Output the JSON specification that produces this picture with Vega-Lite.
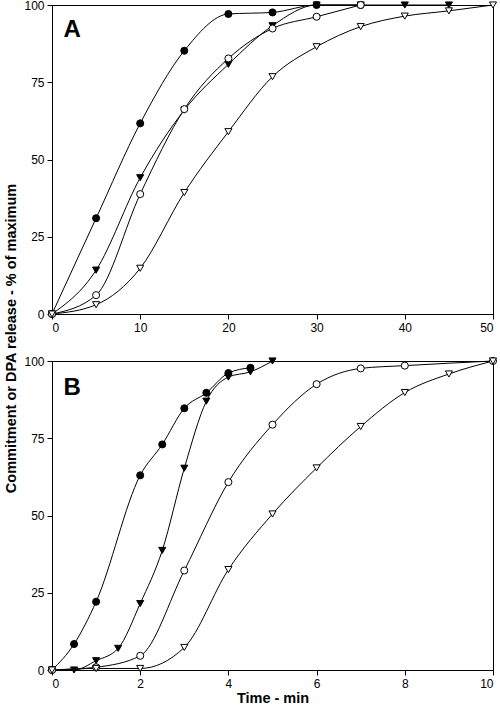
{
  "$schema": "https://vega.github.io/schema/vega-lite/v6.json",
  "padding": {"left": 2, "top": -2, "right": 3, "bottom": 5},
  "background": "white",
  "spacing": 47,
  "bounds": "flush",
  "config": {
    "view": {"stroke": "black", "strokeWidth": 1},
    "axis": {
      "grid": false,
      "domainColor": "black",
      "tickColor": "black",
      "tickSize": 5,
      "labelColor": "black",
      "labelFont": "Liberation Sans",
      "labelFontSize": 12,
      "labelPadding": 3,
      "titleFont": "Liberation Sans",
      "titleFontSize": 14.5,
      "titleFontWeight": "bold",
      "titleColor": "black"
    }
  },
  "datasets": {
    "A": [
      {"t": 0, "v": 0, "s": "fc"}, {"t": 5, "v": 31, "s": "fc"}, {"t": 10, "v": 61.7, "s": "fc"}, {"t": 15, "v": 85.2, "s": "fc"}, {"t": 20, "v": 97.1, "s": "fc"}, {"t": 25, "v": 97.6, "s": "fc"}, {"t": 30, "v": 100, "s": "fc"}, {"t": 35, "v": 100, "s": "fc"},
      {"t": 0, "v": 0, "s": "ft"}, {"t": 5, "v": 14.2, "s": "ft"}, {"t": 10, "v": 44.1, "s": "ft"}, {"t": 15, "v": 66, "s": "ft"}, {"t": 20, "v": 80.8, "s": "ft"}, {"t": 25, "v": 93.3, "s": "ft"}, {"t": 30, "v": 100, "s": "ft"}, {"t": 35, "v": 100, "s": "ft"}, {"t": 40, "v": 100, "s": "ft"}, {"t": 45, "v": 100, "s": "ft"},
      {"t": 0, "v": 0, "s": "oc"}, {"t": 5, "v": 6.1, "s": "oc"}, {"t": 10, "v": 38.8, "s": "oc"}, {"t": 15, "v": 66.3, "s": "oc"}, {"t": 20, "v": 82.7, "s": "oc"}, {"t": 25, "v": 92.4, "s": "oc"}, {"t": 30, "v": 96.2, "s": "oc"}, {"t": 35, "v": 100, "s": "oc"},
      {"t": 0, "v": 0, "s": "ot"}, {"t": 5, "v": 3, "s": "ot"}, {"t": 10, "v": 14.8, "s": "ot"}, {"t": 15, "v": 39.3, "s": "ot"}, {"t": 20, "v": 59, "s": "ot"}, {"t": 25, "v": 76.8, "s": "ot"}, {"t": 30, "v": 86.5, "s": "ot"}, {"t": 35, "v": 93, "s": "ot"}, {"t": 40, "v": 96.4, "s": "ot"}, {"t": 45, "v": 98.1, "s": "ot"}, {"t": 50, "v": 100, "s": "ot"}
    ],
    "B": [
      {"t": 0, "v": 0, "s": "fc"}, {"t": 0.5, "v": 8.4, "s": "fc"}, {"t": 1, "v": 22.1, "s": "fc"}, {"t": 2, "v": 63, "s": "fc"}, {"t": 2.5, "v": 73, "s": "fc"}, {"t": 3, "v": 84.7, "s": "fc"}, {"t": 3.5, "v": 89.7, "s": "fc"}, {"t": 4, "v": 96.1, "s": "fc"}, {"t": 4.5, "v": 97.8, "s": "fc"},
      {"t": 0, "v": 0, "s": "ft"}, {"t": 0.5, "v": 0, "s": "ft"}, {"t": 1, "v": 3, "s": "ft"}, {"t": 1.5, "v": 7, "s": "ft"}, {"t": 2, "v": 21.5, "s": "ft"}, {"t": 2.5, "v": 38.7, "s": "ft"}, {"t": 3, "v": 65.3, "s": "ft"}, {"t": 3.5, "v": 87, "s": "ft"}, {"t": 4, "v": 94.8, "s": "ft"}, {"t": 4.5, "v": 96.5, "s": "ft"}, {"t": 5, "v": 100, "s": "ft"},
      {"t": 0, "v": 0, "s": "oc"}, {"t": 1, "v": 0.9, "s": "oc"}, {"t": 2, "v": 4.6, "s": "oc"}, {"t": 3, "v": 32.2, "s": "oc"}, {"t": 4, "v": 60.8, "s": "oc"}, {"t": 5, "v": 79.4, "s": "oc"}, {"t": 6, "v": 92.5, "s": "oc"}, {"t": 7, "v": 97.6, "s": "oc"}, {"t": 8, "v": 98.5, "s": "oc"}, {"t": 10, "v": 100, "s": "oc"},
      {"t": 0, "v": 0, "s": "ot"}, {"t": 1, "v": 0.5, "s": "ot"}, {"t": 2, "v": 0.5, "s": "ot"}, {"t": 3, "v": 7.3, "s": "ot"}, {"t": 4, "v": 32.5, "s": "ot"}, {"t": 5, "v": 50.5, "s": "ot"}, {"t": 6, "v": 65.4, "s": "ot"}, {"t": 7, "v": 78.8, "s": "ot"}, {"t": 8, "v": 89.8, "s": "ot"}, {"t": 9, "v": 95.8, "s": "ot"}, {"t": 10, "v": 100, "s": "ot"}
    ],
    "LA": [{"label": "A", "x": 1.3, "y": 89.6}],
    "LB": [{"label": "B", "x": 0.26, "y": 89}]
  },
  "vconcat": [
    {
      "width": 441,
      "height": 309,
      "layer": [
        {"data": {"name": "A"},
          "mark": {"type": "line", "interpolate": "monotone", "color": "black", "strokeWidth": 1},
          "encoding": {
            "x": {"field": "t", "type": "quantitative", "scale": {"domain": [0, 50], "nice": false}, "axis": {"values": [0, 10, 20, 30, 40, 50], "title": null}},
            "y": {"field": "v", "type": "quantitative", "scale": {"domain": [0, 100], "nice": false}, "axis": {"values": [0, 25, 50, 75, 100], "title": "Commitment or DPA release - % of maximum", "titleY": 333, "titleX": -34}},
            "detail": {"field": "s", "type": "nominal"}
          }},
        {"data": {"name": "A"},
          "mark": {"type": "point", "size": 50, "strokeWidth": 1, "opacity": 1, "filled": false},
          "encoding": {
            "x": {"field": "t", "type": "quantitative"},
            "y": {"field": "v", "type": "quantitative"},
            "shape": {"field": "s", "type": "nominal", "scale": {"domain": ["fc", "ft", "oc", "ot"], "range": ["circle", "triangle-down", "circle", "triangle-down"]}, "legend": null},
            "fill": {"field": "s", "type": "nominal", "scale": {"domain": ["fc", "ft", "oc", "ot"], "range": ["black", "black", "white", "white"]}, "legend": null},
            "stroke": {"value": "black"}
          }},
        {"data": {"name": "LA"},
          "mark": {"type": "text", "align": "left", "baseline": "alphabetic", "fontSize": 24, "fontWeight": "bold", "font": "Liberation Sans", "fill": "black"},
          "encoding": {
            "x": {"field": "x", "type": "quantitative"},
            "y": {"field": "y", "type": "quantitative"},
            "text": {"field": "label", "type": "nominal"}
          }}
      ]
    },
    {
      "width": 441,
      "height": 309,
      "layer": [
        {"data": {"name": "B"},
          "mark": {"type": "line", "interpolate": "monotone", "color": "black", "strokeWidth": 1},
          "encoding": {
            "x": {"field": "t", "type": "quantitative", "scale": {"domain": [0, 10], "nice": false}, "axis": {"values": [0, 2, 4, 6, 8, 10], "title": "Time - min", "titlePadding": 2}},
            "y": {"field": "v", "type": "quantitative", "scale": {"domain": [0, 100], "nice": false}, "axis": {"values": [0, 25, 50, 75, 100], "title": null}},
            "detail": {"field": "s", "type": "nominal"}
          }},
        {"data": {"name": "B"},
          "mark": {"type": "point", "size": 50, "strokeWidth": 1, "opacity": 1, "filled": false},
          "encoding": {
            "x": {"field": "t", "type": "quantitative"},
            "y": {"field": "v", "type": "quantitative"},
            "shape": {"field": "s", "type": "nominal", "scale": {"domain": ["fc", "ft", "oc", "ot"], "range": ["circle", "triangle-down", "circle", "triangle-down"]}, "legend": null},
            "fill": {"field": "s", "type": "nominal", "scale": {"domain": ["fc", "ft", "oc", "ot"], "range": ["black", "black", "white", "white"]}, "legend": null},
            "stroke": {"value": "black"}
          }},
        {"data": {"name": "LB"},
          "mark": {"type": "text", "align": "left", "baseline": "alphabetic", "fontSize": 24, "fontWeight": "bold", "font": "Liberation Sans", "fill": "black"},
          "encoding": {
            "x": {"field": "x", "type": "quantitative"},
            "y": {"field": "y", "type": "quantitative"},
            "text": {"field": "label", "type": "nominal"}
          }}
      ]
    }
  ],
  "resolve": {"scale": {"x": "independent", "shape": "independent", "fill": "independent"}}
}
